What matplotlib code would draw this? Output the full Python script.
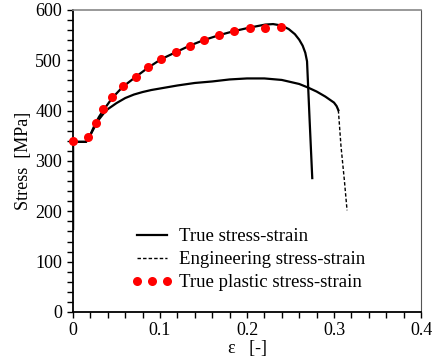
import numpy as np
import matplotlib
matplotlib.use("Agg")
import matplotlib.pyplot as plt
from matplotlib.ticker import MultipleLocator

plt.rcParams['font.family'] = ['Liberation Serif', 'DejaVu Serif']

# true stress-strain
eps_true = [0, 0, 0.005, 0.015, 0.02, 0.025, 0.03, 0.035, 0.045, 0.057, 0.072,
            0.086, 0.101, 0.118, 0.134, 0.150, 0.168, 0.185, 0.203, 0.221,
            0.23, 0.24, 0.248, 0.255, 0.26, 0.264, 0.267, 0.269, 0.272, 0.275]
sig_true = [165, 338, 338, 338, 352, 372, 388, 401, 425, 447, 467,
            485, 502, 516, 529, 540, 550, 558, 565, 571,
            572, 569, 562, 552, 541, 529, 515, 498, 380, 266]

# engineering stress-strain
eps_eng = [0, 0, 0.005, 0.015, 0.02, 0.025, 0.03, 0.035, 0.04, 0.05, 0.06,
           0.07, 0.08, 0.09, 0.1, 0.12, 0.14, 0.16, 0.18, 0.2, 0.22, 0.24,
           0.26, 0.27, 0.28, 0.29, 0.3, 0.303, 0.305]
sig_eng = [165, 338, 338, 338, 352, 368, 383, 394, 403, 415, 425,
           432, 437, 441, 444, 450, 455, 458, 462, 464, 464, 461,
           453, 446, 438, 428, 416, 409, 401]
eps_eng_drop = [0.305, 0.308, 0.312, 0.315]
sig_eng_drop = [401, 330, 260, 202]

# true plastic stress-strain points
eps_pl = [0.0, 0.017, 0.026, 0.034, 0.045, 0.057, 0.072, 0.086, 0.101,
          0.118, 0.134, 0.150, 0.168, 0.185, 0.203, 0.221, 0.239]
sig_pl = [340, 348, 376, 403, 428, 449, 467, 486, 503,
          517, 529, 541, 550, 558, 565, 565, 566]

fig = plt.figure(figsize=(4.33, 3.63), dpi=100)
ax = fig.add_axes([0.1686, 0.1405, 0.8037, 0.832])

ax.plot(eps_true, sig_true, color='black', lw=1.6, label='True stress-strain')
ax.plot(eps_eng, sig_eng, color='black', lw=1.6)
ax.plot(eps_eng_drop, sig_eng_drop, color='black', lw=1.0, ls=(0, (2.5, 1.5)),
        label='Engineering stress-strain')
ax.plot(eps_pl, sig_pl, 'o', color='red', ms=6.5, mec='none',
        label='True plastic stress-strain', zorder=5, clip_on=False)

ax.set_xlim(0, 0.4)
ax.set_ylim(0, 600)
ax.set_xticks([0, 0.1, 0.2, 0.3, 0.4])
ax.set_xticklabels(['0', '0.1', '0.2', '0.3', '0.4'])
ax.xaxis.set_minor_locator(MultipleLocator(0.02))
ax.yaxis.set_major_locator(MultipleLocator(100))
ax.yaxis.set_minor_locator(MultipleLocator(20))
ax.tick_params(which='both', direction='out', length=4, width=1.0,
               labelsize=13, top=False, right=False)
ax.tick_params(axis='x', pad=3)
ax.tick_params(axis='y', pad=4)

for s in ['left', 'bottom']:
    ax.spines[s].set_linewidth(1.3)
ax.spines['top'].set_color('#888888')
ax.spines['right'].set_color('#555555')
ax.spines['top'].set_linewidth(1.2)
ax.spines['right'].set_linewidth(0.8)

ax.set_xlabel('ε   [-]', fontsize=13, labelpad=1)
ax.set_ylabel('Stress  [MPa]', fontsize=13, labelpad=2)

ax.legend(loc='lower left', bbox_to_anchor=(0.13, 0.025), frameon=False,
          fontsize=13.5, handlelength=2.2, handletextpad=0.35,
          labelspacing=0.32, numpoints=3, borderpad=0.2)

fig.savefig('out.png', dpi=100)
